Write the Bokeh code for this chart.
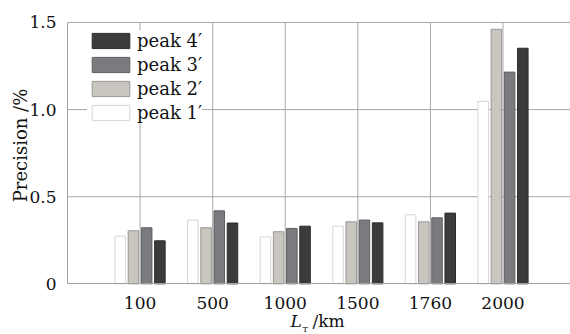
import math
from bokeh.plotting import figure
from bokeh.models import Range1d, FixedTicker, Legend, LegendItem, Label, ColumnDataSource
from bokeh.transform import dodge
from bokeh.embed import file_html
from bokeh.resources import INLINE

categories = ["100", "500", "1000", "1500", "1760", "2000"]
peak1 = [0.274, 0.366, 0.269, 0.331, 0.396, 1.047]
peak2 = [0.305, 0.322, 0.299, 0.356, 0.356, 1.461]
peak3 = [0.322, 0.419, 0.318, 0.366, 0.379, 1.215]
peak4 = [0.247, 0.349, 0.331, 0.350, 0.406, 1.352]
series_names = ["peak 1\u2032", "peak 2\u2032", "peak 3\u2032", "peak 4\u2032"]
y_ticks = [0, 0.5, 1.0, 1.5]
y_tick_labels = ["0", "0.5", "1.0", "1.5"]

FONT = "DejaVu Serif"
TXT = "#111111"
GRID = "#a8a8a8"
pos = list(range(1, len(categories) + 1))
src = ColumnDataSource(dict(x=pos, p1=peak1, p2=peak2, p3=peak3, p4=peak4))

X_END = 6.93
Y_END = max(y_ticks)
p = figure(width=570, height=334, output_backend="svg", toolbar_location=None,
           x_range=Range1d(-0.923, X_END), y_range=Range1d(-0.2907, 1.626),
           min_border_left=0, min_border_right=0, min_border_top=0, min_border_bottom=0)
p.outline_line_color = None
p.background_fill_color = "white"
p.xgrid.visible = False
p.ygrid.visible = False

# grid lines limited to the data area
p.segment(x0=pos, y0=[0] * len(pos), x1=pos, y1=[Y_END] * len(pos),
          line_color=GRID, line_width=1, level="underlay")
p.segment(x0=[0] * 3, y0=y_ticks[1:], x1=[X_END] * 3, y1=y_ticks[1:],
          line_color=GRID, line_width=1, level="underlay")

fills = ["#ffffff", "#c9c6c0", "#7a7b7f", "#3b3b3b"]
lines = ["#d6d6d6", "#9a9794", "#5e5f63", "#2c2c2c"]
cols = ["p1", "p2", "p3", "p4"]
step = 0.182
renderers = []
for i, c in enumerate(cols):
    r = p.vbar(x=dodge("x", (i - 1.5) * step, range=p.x_range), top=c, width=0.145,
               source=src, fill_color=fills[i], line_color=lines[i], line_width=1)
    renderers.append(r)

legend = Legend(items=[LegendItem(label=series_names[i], renderers=[renderers[i]]) for i in [3, 2, 1, 0]],
                location=(87, 211), glyph_width=47, glyph_height=19, label_standoff=3,
                spacing=3, padding=4, border_line_color=None, background_fill_color="white",
                background_fill_alpha=1.0, label_text_font=FONT, label_text_font_size="18px",
                label_text_color=TXT, label_height=19, margin=0)
p.add_layout(legend)

p.xaxis.ticker = FixedTicker(ticks=pos)
p.xaxis.major_label_overrides = {x: c for x, c in zip(pos, categories)}
p.yaxis.ticker = FixedTicker(ticks=y_ticks)
p.yaxis.major_label_overrides = {t: l for t, l in zip(y_ticks, y_tick_labels)}
p.xaxis.fixed_location = 0
p.yaxis.fixed_location = 0
p.xaxis.bounds = (0, X_END)
p.yaxis.bounds = (0, Y_END)
for ax in (p.xaxis[0], p.yaxis[0]):
    ax.major_tick_line_color = None
    ax.minor_tick_line_color = None
    ax.axis_line_color = "#a0a0a0"
    ax.major_label_text_font = FONT
    ax.major_label_text_font_size = "17px"
    ax.major_label_text_color = TXT
    ax.major_label_standoff = 7
p.yaxis.major_label_standoff = 5

# axis titles (screen px from the bottom-left corner)
p.add_layout(Label(x=20, y=189, x_units="screen", y_units="screen", text="Precision /%",
                   angle=math.pi / 2, text_align="center", text_baseline="middle",
                   text_font=FONT, text_font_size="18px", text_color=TXT))
p.add_layout(Label(x=290, y=14, x_units="screen", y_units="screen", text="L", text_font=FONT,
                   text_font_style="italic", text_font_size="17px", text_baseline="middle",
                   text_color=TXT))
p.add_layout(Label(x=302, y=5, x_units="screen", y_units="screen", text="T", text_font=FONT,
                   text_font_size="8px", text_baseline="middle", text_color=TXT))
p.add_layout(Label(x=312, y=14, x_units="screen", y_units="screen", text="/km", text_font=FONT,
                   text_font_size="17px", text_baseline="middle", text_color=TXT))

open("out.html", "w").write(file_html(p, INLINE))
